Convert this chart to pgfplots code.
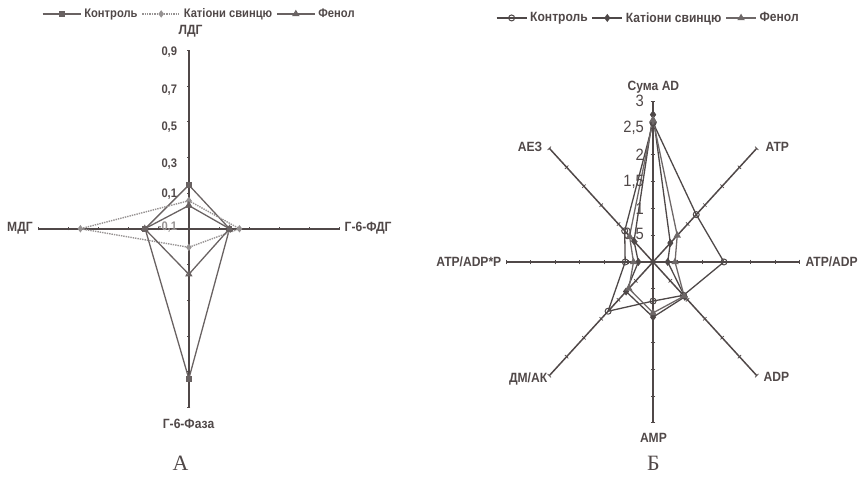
\documentclass[border=0pt]{standalone}
\usepackage{pgfplots}
\pgfplotsset{compat=1.18}
\usepackage{pgfplotstable}
\usepackage{fontspec}
\setmainfont{Liberation Sans}
\newfontfamily\lab[FakeStretch=0.9]{Liberation Sans}
\newfontfamily\panel{Liberation Serif}

\definecolor{spoke}{RGB}{80,72,72}
\definecolor{ser}{RGB}{105,98,98}
\definecolor{serlt}{RGB}{150,146,146}
\definecolor{serB}{RGB}{78,72,72}
\definecolor{serBlt}{RGB}{110,104,104}

% centres and radial scales (canvas units) of the two radar diagrams
\def\cxA{189.3}\def\cyA{261.7}\def\sxA{151}\def\syA{179}
\def\cxB{654.6}\def\cyB{228.4}\def\sxB{49}\def\syB{53.7}

% ---- A: enzymes (a = spoke angle, v = value; centre of scale = -0.1)
\pgfplotstableread{
a v
90 0.145
0 0.17
-90 0.74
180 0.19
90 0.145
}\ctrlA
\pgfplotstableread{
a v
90 0.057
0 0.236
-90 0.004
180 0.62
90 0.057
}\leadA
\pgfplotstableread{
a v
90 0.03
0 0.17
-90 0.155
180 0.193
90 0.03
}\phenA
\pgfplotstableread{
n v
0 -0.1
1 0.9
}\spkA
\pgfplotstableread{
n v
0 0.1
1 0.3
2 0.5
3 0.7
4 0.9
}\tickA

% ---- Б: adenyl nucleotides (centre of scale = 0)
\pgfplotstableread{
a v
90 2.6
45 1.25
0 1.45
-45 0.88
-90 0.73
-135 1.3
180 0.57
135 0.82
90 2.6
}\ctrlB
\pgfplotstableread{
a v
90 2.75
45 0.5
0 0.3
-45 0.92
-90 1.03
-135 0.78
180 0.3
135 0.55
90 2.75
}\leadB
\pgfplotstableread{
a v
90 2.65
45 0.7
0 0.45
-45 0.9
-90 0.95
-135 0.7
180 0.4
135 0.68
90 2.65
}\phenB
\pgfplotstableread{
n v
0 0
1 3
}\spkB
\pgfplotstableread{
n v
0 0.5
1 1
2 1.5
3 2
4 2.5
5 3
}\tickB

\pgfplotsset{
  canvas/.style={scale only axis, width=861bp, height=491bp,
    xmin=0, xmax=861, ymin=0, ymax=491, axis lines=none, clip=false,
    legend columns=-1,
    legend style={draw=none, fill=none, text=spoke, inner sep=0pt,
      /tikz/every odd column/.append style={column sep=1bp},
      /tikz/every even column/.append style={column sep=2bp}}},
  legline/.style={legend image code/.code={%
      \draw[mark repeat=2, mark phase=2, ##1]
        plot coordinates {(0bp,0bp) (#1/2,0bp) (#1,0bp)};}},
  table/polA/.style={x expr={\cxA+(\thisrow{v}+0.1)*\sxA*cos(\thisrow{a})},
                     y expr={\cyA+(\thisrow{v}+0.1)*\syA*sin(\thisrow{a})}},
  table/polB/.style={x expr={\cxB+\thisrow{v}*\sxB*cos(\thisrow{a})},
                     y expr={\cyB+\thisrow{v}*\syB*sin(\thisrow{a})}},
}

\begin{document}
\begin{tikzpicture}
% ===================== A =====================
\begin{axis}[canvas, legline=38bp,
  legend style={at={(axis cs:42,477)}, anchor=west,
    font=\lab\bfseries\fontsize{12.5}{13}\selectfont}]
\path (rel axis cs:0,0) rectangle (rel axis cs:1,1);
\pgfplotsinvokeforeach{90,0,-90,180}{
  \addplot[spoke, line width=1.8bp, forget plot]
    table[x expr={\cxA+(\thisrow{v}+0.1)*\sxA*cos(#1)},
          y expr={\cyA+(\thisrow{v}+0.1)*\syA*sin(#1)}]{\spkA};
  \addplot[only marks, mark=|, mark size=1.6bp, forget plot,
    mark options={rotate=#1, line width=0.6bp, draw=spoke}]
    table[x expr={\cxA+(\thisrow{v}+0.1)*\sxA*cos(#1)},
          y expr={\cyA+(\thisrow{v}+0.1)*\syA*sin(#1)}]{\tickA};
}
\addplot[ser, line width=1.3bp, mark=square*, mark size=2.2bp,
  mark options={fill=ser}] table[polA]{\ctrlA};
\addplot[serlt, line width=1.4bp, densely dotted, mark=diamond*, mark size=2.6bp,
  mark options={solid, fill=serlt}] table[polA]{\leadA};
\addplot[ser, line width=1.3bp, mark=triangle, mark size=3bp,
  mark options={fill=white}] table[polA]{\phenA};
\legend{Контроль, Катіони свинцю, Фенол}

% value labels on the ЛДГ axis
\begin{scope}[font=\lab\bfseries\fontsize{12.5}{13}\selectfont, text=spoke]
\node[anchor=east] at (axis cs:181,439) {0,9};
\node[anchor=east] at (axis cs:181,401) {0,7};
\node[anchor=east] at (axis cs:181,364) {0,5};
\node[anchor=east] at (axis cs:181,326) {0,3};
\node[anchor=east] at (axis cs:181,296) {0,1};
\node[anchor=east, text=serlt] at (axis cs:181,263) {-0,1};
\end{scope}
% axis names
\begin{scope}[font=\lab\bfseries\fontsize{13.5}{14}\selectfont, text=spoke]
\node at (axis cs:191,460) {ЛДГ};
\node at (axis cs:20,262) {МДГ};
\node[anchor=west] at (axis cs:342,262) {Г-6-ФДГ};
\node at (axis cs:189,66) {Г-6-Фаза};
\end{scope}
\node[font=\panel\fontsize{22}{24}\selectfont, text=spoke] at (axis cs:181,27) {А};
\end{axis}

% ===================== Б =====================
\begin{axis}[canvas, legline=30bp,
  legend style={at={(axis cs:497,473)}, anchor=west,
    font=\lab\bfseries\fontsize{13.5}{14}\selectfont}]
\pgfplotsinvokeforeach{90,45,0,-45,-90,-135,180,135}{
  \addplot[spoke, line width=1.5bp, forget plot]
    table[x expr={\cxB+\thisrow{v}*\sxB*cos(#1)},
          y expr={\cyB+\thisrow{v}*\syB*sin(#1)}]{\spkB};
  \addplot[only marks, mark=|, mark size=2.4bp, forget plot,
    mark options={rotate=#1, line width=0.7bp, draw=spoke}]
    table[x expr={\cxB+\thisrow{v}*\sxB*cos(#1)},
          y expr={\cyB+\thisrow{v}*\syB*sin(#1)}]{\tickB};
}
\addplot[serB, line width=1.3bp, mark=o, mark size=3bp,
  mark options={fill=white, line width=1bp}] table[polB]{\ctrlB};
\addplot[serB, line width=1.3bp, mark=diamond*, mark size=3bp,
  mark options={fill=serB}] table[polB]{\leadB};
\addplot[serBlt, line width=1.3bp, mark=triangle*, mark size=3bp,
  mark options={fill=serBlt}] table[polB]{\phenB};
\legend{Контроль, Катіони свинцю, Фенол}

% value labels on the Сума AD axis
\begin{scope}[font=\lab\fontsize{16.5}{17}\selectfont, text=spoke]
\node[anchor=east] at (axis cs:649,{\cyB+3*\syB}) {3};
\node[anchor=east] at (axis cs:649,{\cyB+2.5*\syB}) {2,5};
\node[anchor=east] at (axis cs:649,{\cyB+2*\syB}) {2};
\node[anchor=east] at (axis cs:649,{\cyB+1.5*\syB}) {1,5};
\node[anchor=east] at (axis cs:649,{\cyB+1*\syB}) {1};
\node[anchor=east] at (axis cs:649,{\cyB+0.5*\syB}) {0,5};
\end{scope}
% axis names
\begin{scope}[font=\lab\bfseries\fontsize{13.5}{14}\selectfont, text=spoke]
\node at (axis cs:655,404) {Сума AD};
\node[anchor=west] at (axis cs:764,344) {ATP};
\node[anchor=west] at (axis cs:804,229) {ATP/ADP};
\node[anchor=west] at (axis cs:762,113) {ADP};
\node at (axis cs:655,52) {AMP};
\node[anchor=east] at (axis cs:552,111) {ДМ/АК};
\node[anchor=east] at (axis cs:506,229) {ATP/ADP*P};
\node[anchor=east] at (axis cs:547,344) {АЕЗ};
\end{scope}
\node[font=\panel\fontsize{22}{24}\selectfont, text=spoke] at (axis cs:655,27) {Б};
\end{axis}
\end{tikzpicture}
\end{document}
